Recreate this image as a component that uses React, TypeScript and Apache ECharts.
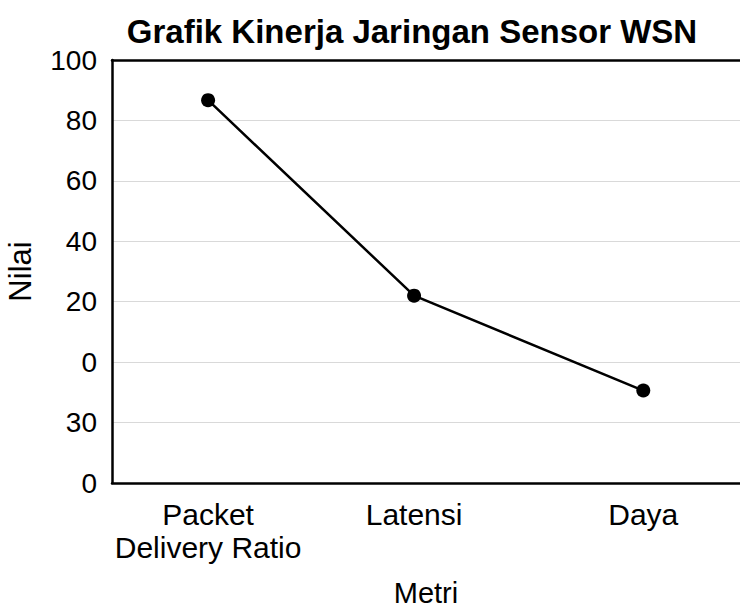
import React, { useEffect, useRef } from "react";
import * as echarts from "echarts";

const categories = ["Packet\nDelivery Ratio", "Latensi", "Daya"];
const categoryPositions = [15.3, 48.1, 84.6];
const values = [126.7, 62.0, 30.6];
const yTickLabels = ["0", "30", "0", "20", "40", "60", "80", "100"];

const FONT = "Liberation Sans, Arial, Helvetica, sans-serif";

export default function App() {
  const ref = useRef<HTMLDivElement>(null);
  useEffect(() => {
    if (!ref.current) return;
    const chart = echarts.init(ref.current, undefined, { renderer: "svg" });
    chart.setOption({
      animation: false,
      backgroundColor: "#fff",
      title: {
        text: "Grafik Kinerja Jaringan Sensor WSN",
        left: 407,
        textAlign: "center",
        top: 10,
        textStyle: { fontFamily: FONT, fontWeight: "bold", fontSize: 33, color: "#000" },
      },
      grid: {
        left: 112,
        right: 0,
        top: 60,
        bottom: 124,
        containLabel: false,
        outerBoundsMode: "none",
      },
      xAxis: [
        {
          type: "value",
          min: 0,
          max: 100,
          name: "Metri",
          nameLocation: "middle",
          nameGap: 95,
          nameTextStyle: { fontFamily: FONT, fontSize: 29, color: "#000" },
          axisLine: { show: true, lineStyle: { color: "#000", width: 2.5 } },
          axisTick: { show: false },
          splitLine: { show: false },
          axisLabel: {
            customValues: categoryPositions,
            formatter: (v: number) => {
              const i = categoryPositions.indexOf(v);
              return i >= 0 ? categories[i] : "";
            },
            fontFamily: FONT,
            fontSize: 30,
            lineHeight: 33,
            color: "#000",
            margin: 15,
          },
        },
        {
          type: "value",
          position: "top",
          min: 0,
          max: 100,
          axisLine: { show: true, lineStyle: { color: "#000", width: 2.5 } },
          axisTick: { show: false },
          axisLabel: { show: false },
          splitLine: { show: false },
        },
      ],
      yAxis: {
        type: "value",
        min: 0,
        max: 140,
        interval: 20,
        name: "Nilai",
        nameLocation: "middle",
        nameGap: 76,
        nameRotate: 90,
        nameTextStyle: { fontFamily: FONT, fontSize: 31, color: "#000" },
        axisLine: { show: true, lineStyle: { color: "#000", width: 2.5 } },
        axisTick: { show: false },
        splitLine: { show: true, lineStyle: { color: "#d9d9d9", width: 1 } },
        axisLabel: {
          formatter: (v: number) => yTickLabels[Math.round(v / 20)] ?? "",
          fontFamily: FONT,
          fontSize: 28,
          color: "#000",
          margin: 15,
        },
      },
      series: [
        {
          type: "line",
          data: categoryPositions.map((x, i) => [x, values[i]]),
          symbol: "circle",
          symbolSize: 14,
          itemStyle: { color: "#000" },
          lineStyle: { color: "#000", width: 2.5 },
        },
      ],
    });
    return () => chart.dispose();
  }, []);
  return <div ref={ref} style={{ width: 740, height: 607, position: "absolute", left: 0, top: 0 }} />;
}
